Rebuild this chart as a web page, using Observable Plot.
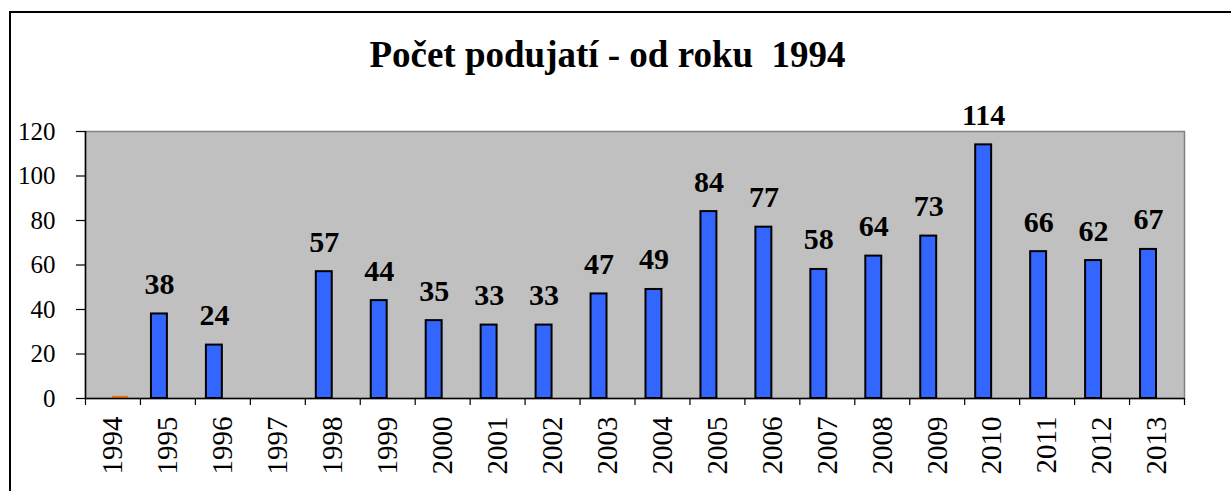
<!DOCTYPE html>
<html><head><meta charset="utf-8">
<script src="https://cdn.jsdelivr.net/npm/d3@7"></script>
<script src="https://cdn.jsdelivr.net/npm/@observablehq/plot@0.6"></script>
<style>
html,body{margin:0;padding:0;background:#fff;width:1231px;height:491px;overflow:hidden;}
#frame{position:absolute;left:9px;top:11px;width:1240px;height:500px;border-top:2px solid #000;border-left:2px solid #000;}
#title{position:absolute;left:0;width:1215px;top:33px;text-align:center;font-weight:bold;font-size:37px;font-family:'Liberation Serif','DejaVu Serif',serif;color:#000;white-space:pre;}
#chart{position:absolute;left:0;top:84px;}
#chart svg text{font-family:'Liberation Serif','DejaVu Serif',serif;}
</style></head><body>
<div id="frame"></div>
<div id="title">Počet podujatí - od roku  1994</div>
<div id="chart"></div>
<script>
const years = [1994,1995,1996,1997,1998,1999,2000,2001,2002,2003,2004,2005,2006,2007,2008,2009,2010,2011,2012,2013];
const counts = [null,38,24,null,57,44,35,33,33,47,49,84,77,58,64,73,114,66,62,67];
const otherYears = [1994];
const otherValues = [1];
const yTicks = [0,20,40,60,80,100,120];

const blue = years.map((y,i)=>({year:y, count:counts[i]})).filter(d=>d.count!=null);
const orange = otherYears.map((y,i)=>({year:y, count:otherValues[i]}));
const boundaries = years.map(y=>y-0.5).concat([years[years.length-1]+0.5]);
const font = "'Liberation Serif','DejaVu Serif',serif";

const chart = Plot.plot({
  width: 1231,
  height: 407,
  marginLeft: 85,
  marginRight: 47,
  marginTop: 47,
  marginBottom: 93,
  style: {fontFamily: font, fontSize: "25px", color: "#000", background: "transparent"},
  x: {type: "linear", domain: [years[0]-0.5, years[years.length-1]+0.5]},
  y: {domain: [0, 120]},
  marks: [
    Plot.frame({fill: "#c0c0c0", stroke: "#808080", strokeWidth: 1.5}),
    Plot.rectY(orange, {x1: d=>d.year-0.5, x2: d=>d.year+0.5, y: "count", fill: "#e8731a", insetLeft: 27, insetRight: 12}),
    Plot.rectY(blue, {x1: d=>d.year-0.5, x2: d=>d.year+0.5, y: "count", fill: "#3366ff", stroke: "#000", strokeWidth: 2, insetLeft: 11, insetRight: 28}),
    Plot.ruleY([0], {stroke: "#000", strokeWidth: 1.5}),
    Plot.ruleX([years[0]-0.5], {stroke: "#000", strokeWidth: 1.5}),
    Plot.axisY({ticks: yTicks, tickSize: 9, tickPadding: 21, label: null, fontSize: 25, strokeWidth: 1.2}),
    Plot.axisX({ticks: boundaries, tickSize: 7, tickFormat: () => "", label: null, strokeWidth: 1.2}),
    Plot.axisX({ticks: years, tickSize: 0, tickPadding: 18, tickRotate: -90, tickFormat: d => String(d), label: null, fontSize: 29}),
    Plot.text(blue, {x: "year", y: "count", text: d => String(d.count), dx: -8.5, dy: -20, lineAnchor: "bottom", fontWeight: "bold", fontSize: 30, fill: "#000"})
  ]
});
document.getElementById("chart").appendChild(chart);
</script>
</body></html>
